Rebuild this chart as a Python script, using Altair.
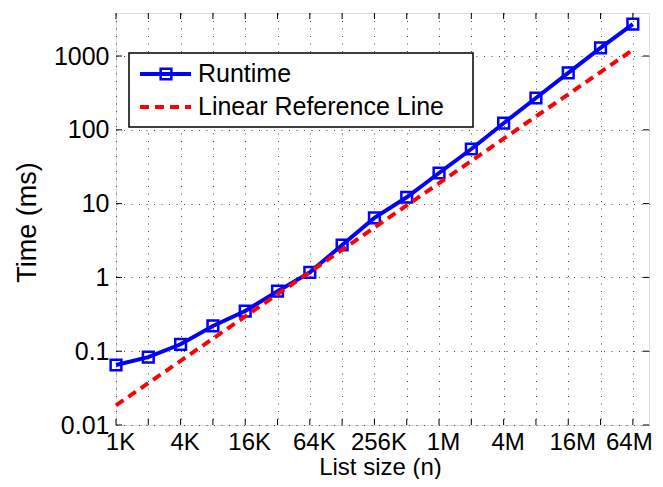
import altair as alt
import pandas as pd

# ---- data ----
list_sizes = [1024, 2048, 4096, 8192, 16384, 32768, 65536, 131072, 262144,
              524288, 1048576, 2097152, 4194304, 8388608, 16777216,
              33554432, 67108864]
runtime_ms = [0.065, 0.083, 0.124, 0.22, 0.35, 0.65, 1.17, 2.75, 6.4,
              12.2, 26, 55, 123, 270, 590, 1290, 2700]
linear_ref_ms = [0.0185, 0.037, 0.074, 0.148, 0.296, 0.592, 1.18, 2.37,
                 4.74, 9.47, 18.9, 37.9, 75.8, 152, 303, 606, 1212]

x_tick_values = [1024, 4096, 16384, 65536, 262144, 1048576, 4194304,
                 16777216, 67108864]
x_tick_labels = ["1K", "4K", "16K", "64K", "256K", "1M", "4M", "16M", "64M"]
y_tick_values = [0.01, 0.1, 1, 10, 100, 1000]

legend_labels = ["Runtime", "Linear Reference Line"]

FONT = "Liberation Sans"
W, H = 533, 412

df = pd.DataFrame({"n": list_sizes, "runtime": runtime_ms, "ref": linear_ref_ms})
grid_x = pd.DataFrame({"n": list_sizes})
grid_y = pd.DataFrame({"t": y_tick_values})

label_expr = " : ".join(
    f"datum.value == {v} ? '{l}'" for v, l in zip(x_tick_values, x_tick_labels)
) + " : ''"

xscale = alt.Scale(type="log", base=2, domain=[1024, 2 ** 26.5], nice=False)
yscale = alt.Scale(type="log", domain=[0.01, 3830], nice=False)

x_axis = alt.Axis(
    values=list_sizes, labelExpr=label_expr, title="List size (n)",
    grid=True, gridDash=[1, 6.5], gridColor="#333", gridOpacity=0.9, gridWidth=1,
    domain=False, ticks=False, tickSize=0, labelPadding=5, labelFlush=False,
    labelOverlap=False, labelBound=False, labelFont=FONT, labelFontSize=24,
    labelColor="black",
    labelOffset={"condition": {"test": "datum.value == 67108864", "value": -4},
                 "value": 4},
    titleFont=FONT, titleFontSize=24, titleFontWeight="normal", titleColor="black",
    titleX=264, titleY=49, titleBaseline="alphabetic", titleAlign="center",
)
y_axis = alt.Axis(
    values=y_tick_values, format="~g", title="Time (ms)",
    grid=True, gridDash=[1, 6.5], gridColor="#333", gridOpacity=0.9, gridWidth=1,
    domain=False, ticks=False, tickSize=0, labelPadding=7, labelFlush=False,
    labelOverlap=False, labelBound=False, labelFont=FONT, labelFontSize=25,
    labelColor="black",
    titleFont=FONT, titleFontSize=27, titleFontWeight="normal", titleColor="black",
    titleX=-89, titleY=209, titleAngle=-90, titleBaseline="middle", titleAlign="center",
)

base = alt.Chart(df)

runtime_line = base.mark_line(color="#0000ff", strokeWidth=4).encode(
    x=alt.X("n:Q", scale=xscale, axis=x_axis),
    y=alt.Y("runtime:Q", scale=yscale, axis=y_axis),
)
runtime_pts = base.mark_point(
    shape="square", filled=False, color="#0000ff", size=115, strokeWidth=2.5, opacity=1
).encode(x=alt.X("n:Q", scale=xscale), y=alt.Y("runtime:Q", scale=yscale))

ref_line = base.mark_line(color="#ff0000", strokeWidth=4, strokeDash=[9, 6]).encode(
    x=alt.X("n:Q", scale=xscale), y=alt.Y("ref:Q", scale=yscale)
)

# inward tick marks (MATLAB style) on all four sides
tick_bottom = alt.Chart(grid_x).mark_rule(color="black", strokeWidth=1).encode(
    x=alt.X("n:Q", scale=xscale), y=alt.value(H), y2=alt.value(H - 6))
tick_top = alt.Chart(grid_x).mark_rule(color="black", strokeWidth=1).encode(
    x=alt.X("n:Q", scale=xscale), y=alt.value(0), y2=alt.value(6))
tick_left = alt.Chart(grid_y).mark_rule(color="black", strokeWidth=1).encode(
    y=alt.Y("t:Q", scale=yscale), x=alt.value(0), x2=alt.value(6))
tick_right = alt.Chart(grid_y).mark_rule(color="black", strokeWidth=1).encode(
    y=alt.Y("t:Q", scale=yscale), x=alt.value(W), x2=alt.value(W - 6))

# legend box drawn by hand
leg_df1 = pd.DataFrame({"label": [legend_labels[0]]})
leg_df2 = pd.DataFrame({"label": [legend_labels[1]]})
leg_box = alt.Chart(leg_df1).mark_rect(
    fill="white", stroke="black", strokeWidth=1.5
).encode(x=alt.value(13), x2=alt.value(357), y=alt.value(40), y2=alt.value(114))
leg_line1 = alt.Chart(leg_df1).mark_rule(color="#0000ff", strokeWidth=4).encode(
    x=alt.value(24), x2=alt.value(75), y=alt.value(61))
leg_pt1 = alt.Chart(leg_df1).mark_point(
    shape="square", filled=False, color="#0000ff", size=115, strokeWidth=2.5, opacity=1
).encode(x=alt.value(50), y=alt.value(61))
leg_txt1 = alt.Chart(leg_df1).mark_text(
    align="left", baseline="middle", font=FONT, fontSize=25, color="black"
).encode(x=alt.value(82), y=alt.value(61), text="label:N")
leg_line2 = alt.Chart(leg_df2).mark_rule(
    color="#ff0000", strokeWidth=4, strokeDash=[9, 6]).encode(
    x=alt.value(24), x2=alt.value(75), y=alt.value(94))
leg_txt2 = alt.Chart(leg_df2).mark_text(
    align="left", baseline="middle", font=FONT, fontSize=25, color="black"
).encode(x=alt.value(82), y=alt.value(94), text="label:N")

chart = alt.layer(
    runtime_line, runtime_pts, ref_line,
    tick_bottom, tick_top, tick_left, tick_right,
    leg_box, leg_line1, leg_pt1, leg_txt1, leg_line2, leg_txt2,
).properties(
    width=W, height=H,
    autosize=alt.AutoSizeParams(type="none"),
    padding={"left": 108, "top": 5, "right": 6, "bottom": 54},
).configure_view(stroke="black", strokeWidth=1.5).configure(background="white")

chart.save("out.html", embed_options={"renderer": "svg", "actions": False})
